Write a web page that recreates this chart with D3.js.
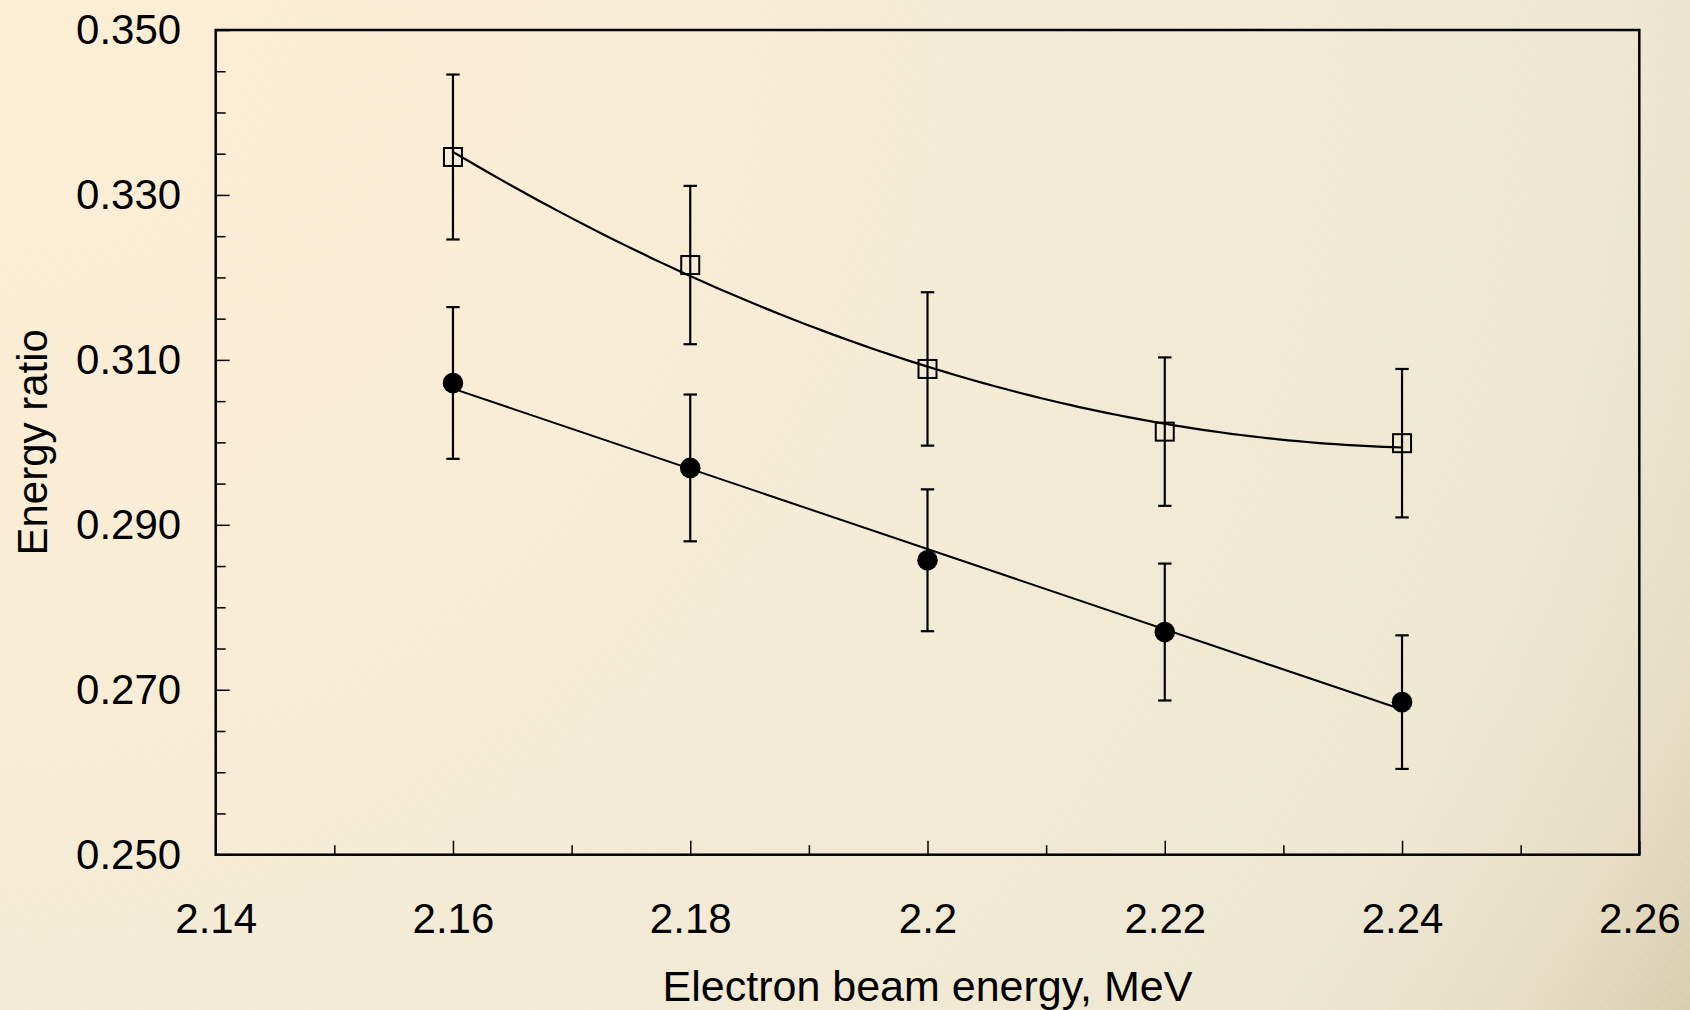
<!DOCTYPE html>
<html>
<head>
<meta charset="utf-8">
<script src="https://cdn.jsdelivr.net/npm/d3@7"></script>
<style>
  html, body { margin: 0; padding: 0; overflow: hidden; }
  body { width: 1690px; height: 1010px; }
  text { font-family: "Liberation Sans", Arial, Helvetica, sans-serif; fill: #000; }
</style>
</head>
<body>
<svg id="chart" width="1690" height="1010"></svg>
<script>
// ---- data ----
const beamEnergy = [2.16, 2.18, 2.20, 2.22, 2.24];
const squareRatio = [0.3346, 0.3215, 0.3089, 0.3013, 0.2999];
const squareError = [0.0100, 0.0096, 0.0093, 0.0090, 0.0090];
const circleRatio = [0.3072, 0.2969, 0.2857, 0.2770, 0.2685];
const circleError = [0.0092, 0.0089, 0.0086, 0.0083, 0.0081];
const xMajorTicks = [2.14, 2.16, 2.18, 2.20, 2.22, 2.24, 2.26];
const xTickLabels = ["2.14", "2.16", "2.18", "2.2", "2.22", "2.24", "2.26"];
const xMinorTicks = [2.15, 2.17, 2.19, 2.21, 2.23, 2.25];
const yMajorTicks = [0.250, 0.270, 0.290, 0.310, 0.330, 0.350];
const yTickLabels = ["0.250", "0.270", "0.290", "0.310", "0.330", "0.350"];
const yMinorTicks = [0.255, 0.260, 0.265, 0.275, 0.280, 0.285, 0.295, 0.300, 0.305,
                     0.315, 0.320, 0.325, 0.335, 0.340, 0.345];
const xTitle = "Electron beam energy, MeV";
const yTitle = "Energy ratio";

// ---- layout ----
const W = 1690, H = 1010;
const L = 215.7, R = 1639.3, T = 30, B = 854.7;
const svg = d3.select("#chart");

// background
const defs = svg.append("defs");
const grad = defs.append("radialGradient").attr("id", "bg")
  .attr("gradientUnits", "userSpaceOnUse")
  .attr("cx", 0).attr("cy", 0).attr("r", 1970);
[[0, "#fdeed5"], [0.3, "#faedd5"], [0.55, "#f3ebd6"], [0.82, "#eee7d2"], [0.92, "#e7dec5"], [1, "#d9ceb1"]]
  .forEach(([o, c]) => grad.append("stop").attr("offset", o).attr("stop-color", c));
svg.append("rect").attr("width", W).attr("height", H).attr("fill", "url(#bg)");

const pat = defs.append("pattern").attr("id", "stripes")
  .attr("patternUnits", "userSpaceOnUse").attr("width", 9).attr("height", 9)
  .attr("patternTransform", "rotate(-50)");
pat.append("line").attr("x1", 0).attr("y1", 0).attr("x2", 0).attr("y2", 9)
  .attr("stroke", "#ffffff").attr("stroke-width", 1).attr("stroke-opacity", 0.18);
svg.append("rect").attr("width", W).attr("height", H).attr("fill", "url(#stripes)");

// scales
const x = d3.scaleLinear().domain([2.14, 2.26]).range([L, R]);
const y = d3.scaleLinear().domain([0.25, 0.35]).range([B, T]);

// axes
const fontSize = 42;
const xAxis = svg.append("g").attr("transform", `translate(0,${B})`)
  .call(d3.axisBottom(x).tickValues(xMajorTicks).tickSize(-14).tickPadding(48)
    .tickFormat((d, i) => xTickLabels[i]));
const xMinor = svg.append("g").attr("transform", `translate(0,${B})`)
  .call(d3.axisBottom(x).tickValues(xMinorTicks).tickSize(-9.5).tickFormat(""));
const yAxis = svg.append("g").attr("transform", `translate(${L},0)`)
  .call(d3.axisLeft(y).tickValues(yMajorTicks).tickSize(-14).tickPadding(34.5)
    .tickFormat((d, i) => yTickLabels[i]));
const yMinor = svg.append("g").attr("transform", `translate(${L},0)`)
  .call(d3.axisLeft(y).tickValues(yMinorTicks).tickSize(-10).tickFormat(""));
[xAxis, xMinor, yAxis, yMinor].forEach(g => {
  g.select(".domain").remove();
  g.selectAll(".tick line").attr("stroke", "#000").attr("stroke-width", 1.5);
  g.selectAll("text").attr("font-size", fontSize)
    .attr("font-family", "'Liberation Sans', Arial, Helvetica, sans-serif").attr("fill", "#000");
});

// frame
svg.append("rect").attr("x", L).attr("y", T).attr("width", R - L).attr("height", B - T)
  .attr("fill", "none").attr("stroke", "#000").attr("stroke-width", 2.5);

// titles
svg.append("text").attr("x", (L + R) / 2).attr("y", 1001).attr("text-anchor", "middle")
  .attr("font-size", 43).text(xTitle);
svg.append("text").attr("transform", `translate(47,${(T + B) / 2}) rotate(-90)`)
  .attr("text-anchor", "middle").attr("font-size", 42).text(yTitle);

// ---- trend lines (least squares, as in the source chart) ----
function polyFit(xs, ys, order) {
  const n = order + 1;
  const A = Array.from({length: n}, () => new Array(n + 1).fill(0));
  xs.forEach((xv, k) => {
    const t = xv - 2.2;
    for (let i = 0; i < n; i++) {
      for (let j = 0; j < n; j++) A[i][j] += Math.pow(t, i + j);
      A[i][n] += ys[k] * Math.pow(t, i);
    }
  });
  for (let i = 0; i < n; i++) {
    let p = i;
    for (let r = i + 1; r < n; r++) if (Math.abs(A[r][i]) > Math.abs(A[p][i])) p = r;
    [A[i], A[p]] = [A[p], A[i]];
    for (let r = 0; r < n; r++) {
      if (r === i) continue;
      const f = A[r][i] / A[i][i];
      for (let c = i; c <= n; c++) A[r][c] -= f * A[i][c];
    }
  }
  const coef = A.map((row, i) => row[n] / row[i]);
  return xv => coef.reduce((s, c, i) => s + c * Math.pow(xv - 2.2, i), 0);
}
const fitSquare = polyFit(beamEnergy, squareRatio, 2);
const fitCircle = polyFit(beamEnergy, circleRatio, 1);
const xs = d3.range(0, 101).map(i => beamEnergy[0] + (beamEnergy[4] - beamEnergy[0]) * i / 100);
const line = d3.line().x(d => x(d[0])).y(d => y(d[1]));
svg.append("path").attr("d", line(xs.map(v => [v, fitSquare(v)])))
  .attr("fill", "none").attr("stroke", "#000").attr("stroke-width", 2.2);
svg.append("path").attr("d", line([[beamEnergy[0], fitCircle(beamEnergy[0])], [beamEnergy[4], fitCircle(beamEnergy[4])]]))
  .attr("fill", "none").attr("stroke", "#000").attr("stroke-width", 2);

// ---- error bars ----
function errorBars(vals, errs) {
  const g = svg.append("g").attr("stroke", "#000").attr("stroke-width", 2.2);
  beamEnergy.forEach((xv, i) => {
    const y0 = y(vals[i] - errs[i]), y1 = y(vals[i] + errs[i]), cx = x(xv);
    g.append("line").attr("x1", cx).attr("x2", cx).attr("y1", y0).attr("y2", y1);
    g.append("line").attr("x1", cx - 6.7).attr("x2", cx + 6.7).attr("y1", y0).attr("y2", y0);
    g.append("line").attr("x1", cx - 6.7).attr("x2", cx + 6.7).attr("y1", y1).attr("y2", y1);
  });
}
errorBars(squareRatio, squareError);
errorBars(circleRatio, circleError);

// ---- markers ----
svg.append("g").selectAll("rect").data(beamEnergy).join("rect")
  .attr("x", d => x(d) - 9).attr("y", (d, i) => y(squareRatio[i]) - 9)
  .attr("width", 18).attr("height", 18)
  .attr("fill", "none").attr("stroke", "#000").attr("stroke-width", 2);
svg.append("g").selectAll("circle").data(beamEnergy).join("circle")
  .attr("cx", d => x(d)).attr("cy", (d, i) => y(circleRatio[i])).attr("r", 10.3)
  .attr("fill", "#000");
</script>
</body>
</html>
